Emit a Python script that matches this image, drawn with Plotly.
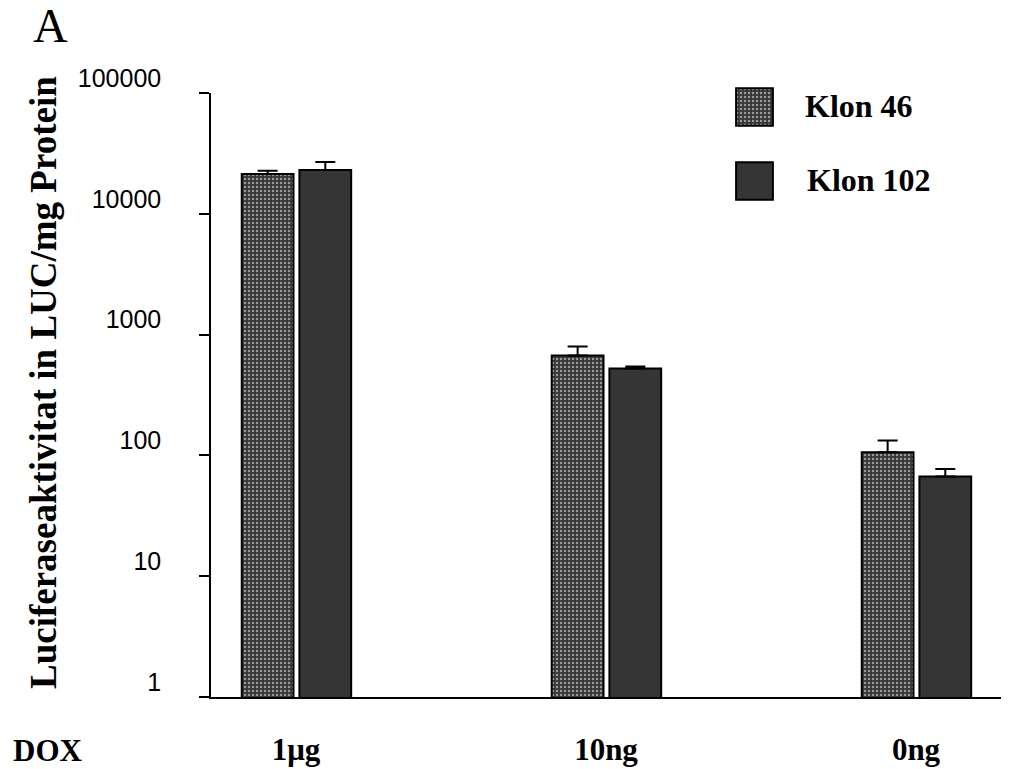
import plotly.graph_objects as go

# ---- data ----
categories = ["1μg", "10ng", "0ng"]
cat_pos = [0, 1, 2]
klon46 = [21400, 670, 106]
klon46_err_top = [22700, 796, 133]
klon102 = [23100, 524, 67]
klon102_err_top = [26900, 545, 77]
ytick_vals = [1, 10, 100, 1000, 10000, 100000]
ytick_text = ["1", "10", "100", "1000", "10000", "100000"]
series_names = ["Klon 46", "Klon 102"]

SERIF = "Liberation Serif, Times New Roman, serif"
SANS = "Liberation Sans, Arial, sans-serif"

# page has an 8px body margin; size the figure so it fills the window
OFF = 8
W, H = 1009 - OFF, 769 - OFF
PLOT_L, PLOT_R, PLOT_T, PLOT_B = 211, 1009, 80, 697  # page coords of paper area
ML, MR, MT, MB = PLOT_L - OFF, 0, PLOT_T - OFF, 769 - PLOT_B
plot_h = PLOT_B - PLOT_T  # 617
main_top_frac = (PLOT_B - 93) / plot_h


def py(p):
    return (PLOT_B - p) / plot_h


def px(p):
    return (p - PLOT_L) / (PLOT_R - PLOT_L)


pattern46 = dict(shape=".", fgcolor="white", bgcolor="#363636", size=4, solidity=0.3)
col102 = "#353535"

fig = go.Figure()
fig.add_trace(go.Bar(
    x=cat_pos, y=klon46, name=series_names[0], width=0.167, offset=-0.175,
    marker=dict(color="#363636", pattern=pattern46, line=dict(color="black", width=2)),
    error_y=dict(type="data", symmetric=False,
                 array=[t - v for t, v in zip(klon46_err_top, klon46)],
                 arrayminus=[0] * len(klon46), width=10, thickness=2, color="black"),
    showlegend=False,
))
fig.add_trace(go.Bar(
    x=cat_pos, y=klon102, name=series_names[1], width=0.167, offset=0.011,
    marker=dict(color=col102, line=dict(color="black", width=2)),
    error_y=dict(type="data", symmetric=False,
                 array=[t - v for t, v in zip(klon102_err_top, klon102)],
                 arrayminus=[0] * len(klon102), width=10, thickness=2, color="black"),
    showlegend=False,
))

# legend patches as tiny subplots
fig.add_trace(go.Bar(x=[0], y=[1], width=1, xaxis="x2", yaxis="y2", showlegend=False,
                     hoverinfo="skip",
                     marker=dict(color="#363636", pattern=pattern46, line=dict(color="black", width=2))))
fig.add_trace(go.Bar(x=[0], y=[1], width=1, xaxis="x3", yaxis="y3", showlegend=False,
                     hoverinfo="skip",
                     marker=dict(color=col102, line=dict(color="black", width=2))))

hidden = dict(visible=False, showgrid=False, zeroline=False, fixedrange=True)
fig.update_layout(
    xaxis2=dict(domain=[px(735), px(774)], range=[-0.53, 0.53], anchor="y2", **hidden),
    yaxis2=dict(domain=[py(127), py(87)], range=[-0.03, 1.03], anchor="x2", **hidden),
    xaxis3=dict(domain=[px(735), px(774)], range=[-0.53, 0.53], anchor="y3", **hidden),
    yaxis3=dict(domain=[py(201), py(161)], range=[-0.03, 1.03], anchor="x3", **hidden),
)

fig.update_layout(
    width=W, height=H,
    margin=dict(l=ML, r=MR, t=MT, b=MB),
    paper_bgcolor="white", plot_bgcolor="white",
    showlegend=False,
    xaxis=dict(
        range=[(211 - 296) / 310, (1009 - 296) / 310],
        tickvals=cat_pos, ticktext=categories,
        tickfont=dict(family=SERIF, size=31, color="black", weight="bold"),
        showline=True, linecolor="black", linewidth=2,
        ticks="", showgrid=False, zeroline=False,
        ticklabelstandoff=24,
    ),
    yaxis=dict(
        type="log", range=[0, 5], domain=[0, main_top_frac],
        tickvals=ytick_vals, ticktext=ytick_text,
        tickfont=dict(family=SANS, size=25, color="black"),
        ticks="outside", ticklen=10, tickwidth=1.5, tickcolor="black",
        showline=True, linecolor="black", linewidth=1.5,
        showgrid=False, zeroline=False,
        ticklabelstandoff=33, ticklabelshift=-15,
    ),
)

annots = [
    dict(text="Luciferaseaktivitat in LUC/mg Protein", textangle=-90,
         x=px(43), y=py(383), xanchor="center", yanchor="middle",
         font=dict(family=SERIF, size=37, color="black", weight="bold")),
    dict(text="A", x=px(31), y=py(26), xanchor="left", yanchor="middle",
         font=dict(family=SERIF, size=48, color="black")),
    dict(text="DOX", x=px(11), y=py(750), xanchor="left", yanchor="middle",
         font=dict(family=SERIF, size=31, color="black", weight="bold")),
    dict(text=series_names[0], x=px(803), y=py(106), xanchor="left", yanchor="middle",
         font=dict(family=SERIF, size=32, color="black", weight="bold")),
    dict(text=series_names[1], x=px(805), y=py(180), xanchor="left", yanchor="middle",
         font=dict(family=SERIF, size=32, color="black", weight="bold")),
]
for a in annots:
    a.update(xref="paper", yref="paper", showarrow=False)
fig.update_layout(annotations=annots)

fig.write_html("out.html")
